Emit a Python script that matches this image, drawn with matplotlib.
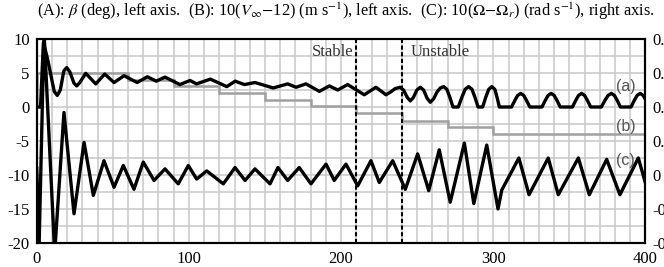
import numpy as np
import matplotlib
matplotlib.use("Agg")
import matplotlib.pyplot as plt

plt.rcParams['font.family'] = ['Liberation Serif', 'DejaVu Serif']
plt.rcParams['mathtext.fontset'] = 'stix'
plt.rcParams['axes.unicode_minus'] = False

# (A) beta (deg), left axis
a_x = [0, 2.5, 4.4, 7.0, 11.5, 13.5, 15.5, 17.8, 19.7, 21.7, 24.5, 26.3, 28.3, 32.2, 38.8,
       44.7, 50.8, 57.4, 66.0, 72.7, 78.5, 84.3, 94.1, 100.7, 105.0, 114.1, 124.9, 130.4,
       136.5, 143.4, 155.4, 164.9, 170.4, 176.9, 185.7, 192.3, 197.8, 204.3, 215.2, 222.9,
       229.5, 232.5, 235.5, 238.7, 241.0, 243.5, 245.5, 247.5, 249.8, 252.0, 254.2, 256.5,
       258.6, 260.8, 263.0, 265.2, 267.4, 269.5, 271.5, 273.5, 277.0, 279.3, 281.5, 283.8,
       286.0, 288.0, 290.0, 293.0, 295.0, 297.0, 299.0, 301.0, 302.5, 304.0, 312.0, 314.0,
       316.0, 318.0, 320.0, 322.0, 324.0, 332.0, 334.0, 336.0, 338.0, 340.0, 342.0, 344.0,
       352.0, 354.0, 356.0, 358.0, 360.0, 362.0, 364.0, 371.0, 373.2, 375.4, 377.5, 379.6,
       381.6, 383.5, 390.5, 392.5, 394.5, 396.5, 398.5, 400.0]
a_y = [0, 0, 9.5, 7.2, 2.3, 1.7, 2.5, 5.3, 5.8, 5.2, 3.5, 3.1, 3.6, 4.95, 3.4,
       4.85, 3.6, 4.6, 3.6, 4.45, 3.8, 4.4, 3.3, 3.9, 3.4, 4.1, 3.0, 3.8,
       3.3, 3.6, 2.8, 3.4, 2.9, 3.4, 2.3, 3.1, 2.5, 3.3, 1.8, 2.9,
       1.8, 2.2, 2.7, 2.9, 2.5, 1.4, 0.9, 1.4, 2.5, 2.9, 2.5, 1.3,
       0.7, 1.2, 2.2, 2.8, 3.0, 2.6, 1.4, 0, 0, 1.4, 2.6, 3.0,
       2.6, 1.4, 0, 0, 1.4, 2.6, 3.0, 2.6, 1.4, 0, 0, 0.9,
       1.7, 2.0, 1.7, 0.9, 0, 0, 0.9, 1.7, 2.0, 1.7, 0.9, 0,
       0, 0.9, 1.7, 2.0, 1.7, 0.9, 0, 0, 0.9, 1.7, 2.0, 1.7,
       0.9, 0, 0, 0.9, 1.7, 2.0, 1.7, 1.1]

# (B) 10(V-12), left axis, step changes
b_edges = [0, 60, 90, 120, 150, 180, 210, 240, 270, 300, 400]
b_vals = [5, 4, 3.1, 2.1, 1.0, 0.2, -0.9, -2.0, -3.0, -3.9]

# (C) 10(Omega-Omega_r), right axis
c_x = [0, 1.5, 4.8, 11.8, 17.9, 24.5, 31.1, 37.2, 44.2, 50.8, 56.9, 63.9, 70.0, 77.1,
       84.3, 93.0, 99.6, 105.1, 111.7, 122.6, 130.3, 136.9, 143.4, 153.3, 158.5, 164.9,
       172.5, 180.2, 190.1, 195.5, 203.2, 210.9, 219.6, 225.1, 233.9, 242.2, 250.3, 257.6,
       264.5, 271.7, 281.0, 287.2, 295.7, 303.1, 305.6, 312.3, 316.8, 323.5, 336.1, 342.7,
       355.9, 363.1, 374.5, 383.2, 395.3, 400]
c_y = [0.04, -0.44, 0.84, -0.46, 0.368, -0.228, 0.192, -0.12, 0.084, -0.072, 0.056, -0.084, 0.076, -0.032,
       0.036, -0.052, 0.056, -0.024, 0.024, -0.052, 0.044, -0.032, 0.036, -0.052, 0.044, -0.032,
       0.044, -0.052, 0.064, -0.032, 0.064, -0.064, 0.084, -0.044, 0.084, -0.084, 0.124, -0.092,
       0.148, -0.16, 0.188, -0.168, 0.176, -0.2, -0.088, 0.024, 0.1, -0.116, 0.1, -0.116,
       0.1, -0.116, 0.092, -0.116, 0.1, -0.048]

stable_x = [210, 240]

fig = plt.figure(figsize=(6.64, 2.67), dpi=100)
ax = fig.add_axes([0.0553, 0.0899, 0.9168, 0.764])
ax2 = ax.twinx()

ax.set_xlim(0, 400)
ax.set_ylim(-20, 10)
ax.set_xticks(np.arange(0, 401, 100))
ax.set_xticks(np.arange(0, 401, 10), minor=True)
ax.set_yticks(np.arange(-20, 11, 5))
ax.set_yticks(np.arange(-20, 11, 2.5), minor=True)
ax.grid(True, which='both', color='#c8c8c8', lw=1.1)
ax.set_axisbelow(True)
ax.tick_params(which='both', length=0, labelsize=12)
ax.tick_params(axis='y', pad=5)
ax.tick_params(axis='x', pad=6)

ax.stairs(b_vals, b_edges, color='#a0a0a0', lw=1.8, zorder=2)
ax.plot(a_x, a_y, color='black', lw=2.4, solid_joinstyle='round', zorder=3)

ax2.set_ylim(-0.4, 0.8)
ax2.set_yticks(np.arange(-0.4, 0.81, 0.2))
ax2.set_yticklabels(['%.1f' % v if abs(v) > 1e-9 else '0' for v in np.arange(-0.4, 0.81, 0.2)])
ax2.tick_params(length=0, labelsize=12, pad=5)
ax2.plot(c_x, c_y, color='black', lw=2.4, solid_joinstyle='round', zorder=3)
for xv in stable_x:
    ax2.axvline(xv, color='black', lw=1.5, ls=(0, (2, 1.2)), zorder=4)

for a in (ax, ax2):
    for s in a.spines.values():
        s.set_linewidth(1.5)
        s.set_color('black')

ax.text(208, 8.1, 'Stable', ha='right', va='center', fontsize=12, color='#333333')
ax.text(246, 8.1, 'Unstable', ha='left', va='center', fontsize=12, color='#333333')
for lab, yv in [('(a)', 3.0), ('(b)', -2.9), ('(c)', -7.8)]:
    ax.text(387, yv, lab, ha='center', va='center', fontsize=11.5,
            family=['Liberation Sans', 'DejaVu Sans'], color='#555555', zorder=5)

fig.text(37 / 664, 1 - 16 / 267,
         r'(A): $\beta$ (deg), left axis.  (B): 10($V_\infty$$-$12) (m s$^{-1}$), left axis.  '
         r'(C): 10($\Omega$$-$$\Omega_r$) (rad s$^{-1}$), right axis.',
         ha='left', va='baseline', fontsize=11.8)

fig.savefig('out.png', dpi=100)
